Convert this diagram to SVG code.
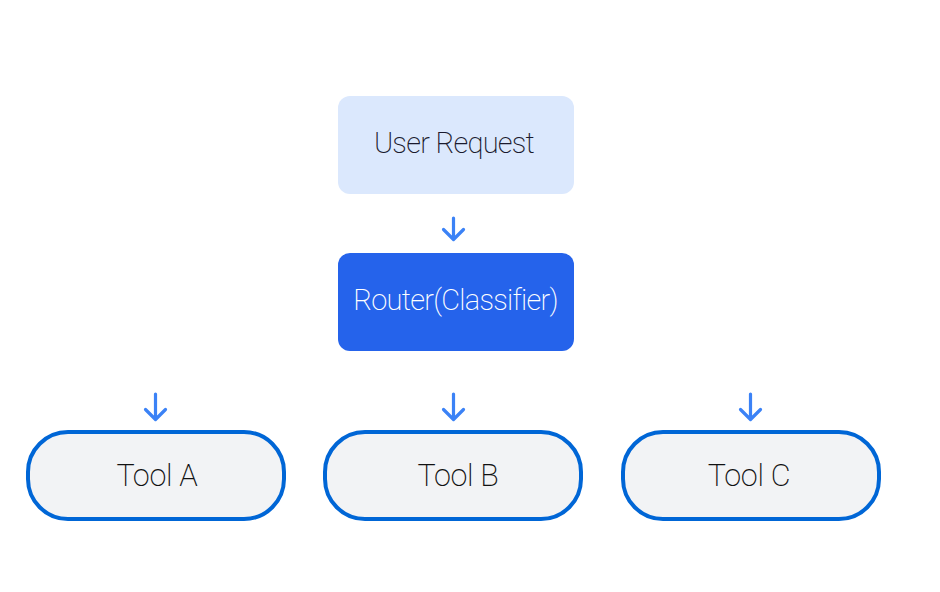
<svg xmlns="http://www.w3.org/2000/svg" width="940" height="592" viewBox="0 0 940 592">
<style>
.lbl{font-family:Roboto,"Liberation Sans",sans-serif;font-weight:200;font-size:29px;letter-spacing:-0.75px;text-anchor:middle;dominant-baseline:central}
.tool text{font-size:30.5px;letter-spacing:-0.3px}
.tool rect{fill:#f2f3f5;stroke:#0066d6;stroke-width:4}
.arr{fill:none;stroke:#3b82f6;stroke-width:3.2;stroke-linecap:round;stroke-linejoin:round}
</style>
<rect width="940" height="592" fill="#ffffff"/>
<g id="connectors">
<path class="arr" d="M453.5 218 V239 M443.5 229.5 L453.5 239.5 L463.5 229.5"/>
<path class="arr" d="M155.5 394 V419 M145.5 409.5 L155.5 419.5 L165.5 409.5"/>
<path class="arr" d="M453.5 394 V419 M443.5 409.5 L453.5 419.5 L463.5 409.5"/>
<path class="arr" d="M750.5 394 V419 M740.5 409.5 L750.5 419.5 L760.5 409.5"/>
</g>
<g id="user-request">
<rect x="338" y="96" width="236" height="98" rx="12" fill="#dbe8fd"/>
<text class="lbl" x="454" y="142.5" fill="#1a1a2e">User Request</text>
</g>
<g id="router">
<rect x="338" y="253" width="236" height="98" rx="12" fill="#2563eb"/>
<text class="lbl" x="455.5" y="300" fill="#ffffff">Router(Classifier)</text>
</g>
<g id="tool-a" class="tool">
<rect x="28" y="432" width="256" height="87" rx="40"/>
<text class="lbl" x="157" y="475.5" fill="#111111">Tool A</text>
</g>
<g id="tool-b" class="tool">
<rect x="325" y="432" width="256" height="87" rx="40"/>
<text class="lbl" x="458" y="475.5" fill="#111111">Tool B</text>
</g>
<g id="tool-c" class="tool">
<rect x="623" y="432" width="256" height="87" rx="40"/>
<text class="lbl" x="749" y="475.5" fill="#111111">Tool C</text>
</g>
</svg>
